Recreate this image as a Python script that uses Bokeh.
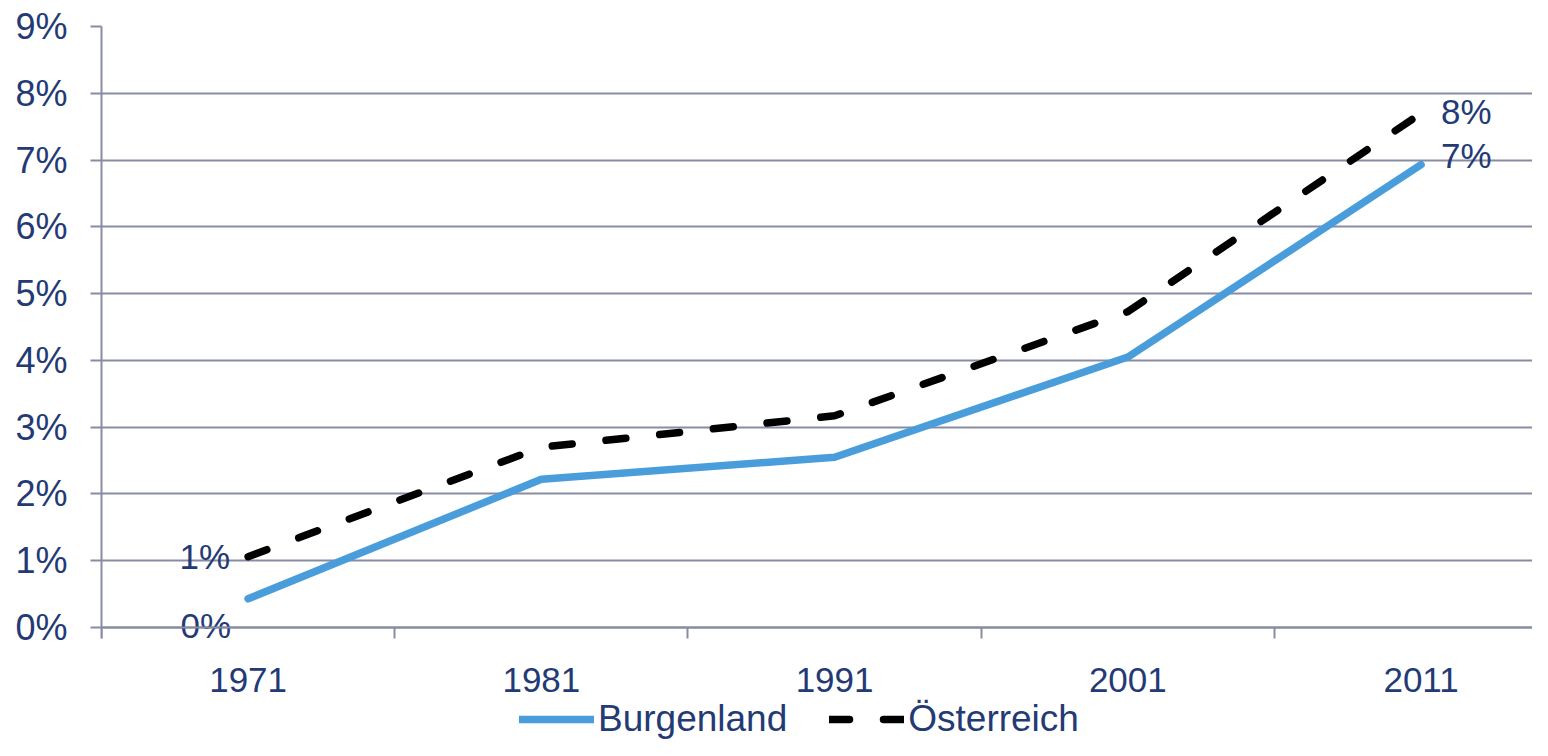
from bokeh.plotting import figure
from bokeh.models import FixedTicker, Legend, LegendItem, ColumnDataSource, Range1d
from bokeh.core.properties import value
from bokeh.embed import file_html
from bokeh.resources import INLINE

years = ["1971", "1981", "1991", "2001", "2011"]
burgenland = [0.43, 2.22, 2.55, 4.05, 6.93]
oesterreich = [1.06, 2.70, 3.17, 4.73, 7.70]
y_ticks = [0, 1, 2, 3, 4, 5, 6, 7, 8, 9]
y_tick_labels = [f"{t}%" for t in y_ticks]

TEXT = "#233A75"
GRID = "#878BA3"
FONT = "Liberation Sans"

xs = list(range(len(years)))

p = figure(width=1532, height=740, output_backend="svg", toolbar_location=None,
           x_range=Range1d(-0.5, 4.38), y_range=Range1d(-1.692, 9),
           min_border_left=101, min_border_right=0, min_border_top=26, min_border_bottom=0)
p.outline_line_color = None
p.background_fill_color = "white"
p.border_fill_color = "white"

# x axis, drawn at y = 0
p.xaxis.fixed_location = 0
p.xaxis.ticker = FixedTicker(ticks=xs, minor_ticks=[-0.5, 0.5, 1.5, 2.5, 3.5])
p.xaxis.major_label_overrides = {i: y for i, y in enumerate(years)}
p.xaxis.major_tick_out = 0
p.xaxis.major_tick_in = 0
p.xaxis.minor_tick_out = 11
p.xaxis.minor_tick_in = 0
p.xaxis.minor_tick_line_color = GRID
p.xaxis.minor_tick_line_width = 2
p.xaxis.axis_line_color = GRID
p.xaxis.axis_line_width = 2
p.xaxis.major_label_standoff = 29
p.xaxis.major_label_text_font = FONT
p.xaxis.major_label_text_font_size = "35px"
p.xaxis.major_label_text_color = TEXT
p.xgrid.grid_line_color = None

# y axis
p.yaxis.ticker = FixedTicker(ticks=y_ticks)
p.yaxis.bounds = (-0.165, 9)
p.yaxis.major_label_overrides = {t: l for t, l in zip(y_ticks, y_tick_labels)}
p.yaxis.major_tick_out = 11
p.yaxis.major_tick_in = 0
p.yaxis.minor_tick_line_color = None
p.yaxis.major_tick_line_color = GRID
p.yaxis.major_tick_line_width = 2
p.yaxis.axis_line_color = GRID
p.yaxis.axis_line_width = 2
p.yaxis.major_label_standoff = 23
p.yaxis.major_label_text_font = FONT
p.yaxis.major_label_text_font_size = "36px"
p.yaxis.major_label_text_color = TEXT
p.ygrid.grid_line_color = GRID
p.ygrid.grid_line_width = 2

src = ColumnDataSource(dict(x=xs, b=burgenland, o=oesterreich))
rb = p.line("x", "b", source=src, line_color="#4A9DDB", line_width=7.5, line_cap="round", line_join="round")
ro = p.line("x", "o", source=src, line_color="black", line_width=7.5, line_dash="20 34",
            line_cap="round", line_join="round")

# data labels (first and last points)
p.text(x=[0], y=[oesterreich[0]], text=[f"{round(oesterreich[0])}%"], x_offset=-18, y_offset=0,
       text_align="right", text_baseline="middle", text_font=value(FONT),
       text_font_size="35px", text_color=TEXT)
p.text(x=[0], y=[burgenland[0]], text=[f"{round(burgenland[0])}%"], x_offset=-17, y_offset=27,
       text_align="right", text_baseline="middle", text_font=value(FONT),
       text_font_size="35px", text_color=TEXT)
p.text(x=[4], y=[oesterreich[-1]], text=[f"{round(oesterreich[-1])}%"], x_offset=20, y_offset=-2,
       text_align="left", text_baseline="middle", text_font=value(FONT),
       text_font_size="35px", text_color=TEXT)
p.text(x=[4], y=[burgenland[-1]], text=[f"{round(burgenland[-1])}%"], x_offset=20, y_offset=-9,
       text_align="left", text_baseline="middle", text_font=value(FONT),
       text_font_size="35px", text_color=TEXT)

legend = Legend(items=[LegendItem(label="Burgenland", renderers=[rb]),
                       LegendItem(label="Österreich", renderers=[ro])],
                orientation="horizontal", location=(418, 0))
legend.label_text_font = FONT
legend.label_text_font_size = "37px"
legend.label_text_color = TEXT
legend.glyph_width = 75
legend.glyph_height = 34
legend.label_standoff = 4
legend.spacing = 42
legend.padding = 0
legend.margin = 0
legend.border_line_color = None
legend.background_fill_alpha = 0
p.add_layout(legend, "center")

open("out.html", "w").write(file_html(p, INLINE))
